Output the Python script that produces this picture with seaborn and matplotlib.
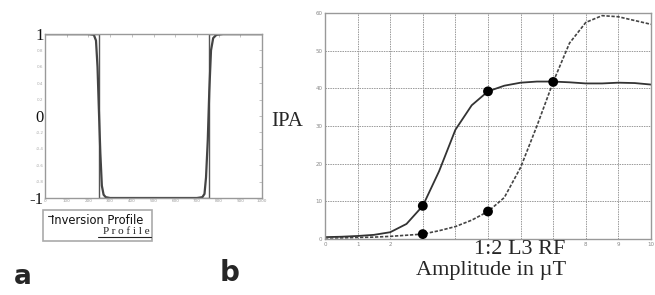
import numpy as np
import pandas as pd
import matplotlib
matplotlib.use("Agg")
import matplotlib.pyplot as plt
from matplotlib.patches import Rectangle
from matplotlib.lines import Line2D
import seaborn as sns

# Panel a: inversion profile
profile_x = [0, 200, 225, 235, 242, 248, 255, 262, 270, 280, 300, 500, 700, 725, 735, 742, 750, 757, 765, 775, 790, 820, 1000]
profile_y = [1, 1, 0.99, 0.92, 0.6, 0.1, -0.45, -0.85, -0.96, -0.99, -1, -1, -1, -0.99, -0.95, -0.75, -0.3, 0.3, 0.8, 0.95, 0.99, 1, 1]
ideal_x = [0, 250, 250, 755, 755, 1000]
ideal_y = [1, 1, -1, -1, 1, 1]

# Panel b: IPA vs amplitude
amp = [0, 0.5, 1, 1.5, 2, 2.5, 3, 3.5, 4, 4.5, 5, 5.5, 6, 6.5, 7, 7.5, 8, 8.5, 9, 9.5, 10]
ipa_solid = [0.5, 0.6, 0.8, 1.1, 1.8, 4.0, 8.8, 18, 29, 35.5, 39.2, 40.7, 41.5, 41.8, 41.8, 41.6, 41.3, 41.3, 41.5, 41.4, 41.0]
ipa_dashed = [0.3, 0.3, 0.4, 0.5, 0.7, 1.0, 1.3, 2.2, 3.3, 5.0, 7.3, 11, 19, 30, 41.7, 52, 57.5, 59.3, 59.0, 58.0, 57.0]
dot_x = [3, 5, 7, 3, 5]
dot_y = [8.8, 39.2, 41.7, 1.3, 7.3]

sns.set_style("white")
W, H = 655, 295
fig = plt.figure(figsize=(6.55, 2.95), dpi=100)

# ---- panel a
ax1 = fig.add_axes([45 / W, 1 - 198 / H, 217 / W, 164 / H])
sns.lineplot(x=ideal_x, y=ideal_y, ax=ax1, color="#555555", lw=1.0, sort=False, estimator=None)
sns.lineplot(x=profile_x, y=profile_y, ax=ax1, color="#444444", lw=1.6, sort=False, estimator=None)
ax1.set_xlim(0, 1000)
ax1.set_ylim(-1, 1)
ax1.set_xticks(np.arange(0, 1001, 100))
ax1.set_xticklabels([str(v) for v in range(0, 1001, 100)], fontsize=3, color="#999999")
yt = np.round(np.arange(-1, 1.01, 0.2), 1)
ax1.set_yticks(yt)
labs = []
for v in yt:
    if v == 1:
        labs.append("1")
    elif v == 0:
        labs.append("0")
    elif v == -1:
        labs.append("-1")
    else:
        labs.append(f"{v:.1f}")
ax1.set_yticklabels(labs)
for lab, v in zip(ax1.get_yticklabels(), yt):
    if v in (1, 0, -1):
        lab.set_fontsize(12)
        lab.set_family("Liberation Serif")
        lab.set_color("#111111")
    else:
        lab.set_fontsize(3)
        lab.set_color("#aaaaaa")
ax1.tick_params(direction="in", length=2, width=0.5, color="#aaaaaa", top=True, right=True, pad=1)
for s in ax1.spines.values():
    s.set_color("#999999")
    s.set_linewidth(1.0)
ax1.set_xlabel("")
ax1.set_ylabel("")

# legend box of panel a
fig.patches.append(Rectangle((43 / W, 1 - 241 / H), 109 / W, 31 / H, transform=fig.transFigure,
                             fill=False, edgecolor="#aaaaaa", lw=1.2))
fig.lines.append(Line2D([48 / W, 53 / W], [1 - 216 / H, 1 - 216 / H], transform=fig.transFigure,
                        color="#333333", lw=0.8))
fig.text(51 / W, 1 - 220 / H, "Inversion Profile", fontsize=8.3, color="#111111",
         va="center", ha="left")
fig.text(150 / W, 1 - 231 / H, "P r o f i l e", fontsize=8, family="Liberation Serif",
         color="#222222", va="center", ha="right")
fig.lines.append(Line2D([98 / W, 151 / W], [1 - 237 / H, 1 - 237 / H], transform=fig.transFigure,
                        color="#222222", lw=0.8))
fig.text(14 / W, 1 - 277 / H, "a", fontsize=19, fontweight="bold", va="center", ha="left")

# ---- panel b
ax2 = fig.add_axes([325 / W, 1 - 239 / H, 326 / W, 226 / H])
sns.lineplot(x=amp, y=ipa_solid, ax=ax2, color="#333333", lw=1.3)
sns.lineplot(x=amp, y=ipa_dashed, ax=ax2, color="#444444", lw=1.2, linestyle=(0, (2, 1)))
sns.scatterplot(x=dot_x, y=dot_y, ax=ax2, color="#000000", s=50, edgecolor="none", zorder=5)
ax2.set_xlim(0, 10)
ax2.set_ylim(0, 60)
ax2.set_xticks(range(0, 11))
ax2.set_xticklabels(["0", "1", "2", "", "", "", "", "", "8", "9", "10"], fontsize=4, color="#888888")
ax2.set_yticks(range(0, 61, 10))
ax2.set_yticklabels([str(v) for v in range(0, 61, 10)], fontsize=4, color="#888888")
ax2.tick_params(length=0, pad=2)
ax2.grid(True, color="#999999", linestyle=(0, (1.5, 1)), lw=0.7)
for s in ax2.spines.values():
    s.set_color("#999999")
    s.set_linewidth(1.0)
ax2.set_xlabel("")
ax2.set_ylabel("")

fig.text(271 / W, 1 - 121 / H, "IPA", fontsize=15, family="Liberation Serif", va="center", ha="left")
fig.text(520 / W, 1 - 249 / H, "1:2 L3 RF", fontsize=16, family="Liberation Serif", va="center", ha="center")
fig.text(491 / W, 1 - 271 / H, "Amplitude in \u00b5T", fontsize=16, family="Liberation Serif", va="center", ha="center")
fig.text(220 / W, 1 - 273 / H, "b", fontsize=20, fontweight="bold", va="center", ha="left")

fig.savefig("out.png", dpi=100, facecolor="white")
